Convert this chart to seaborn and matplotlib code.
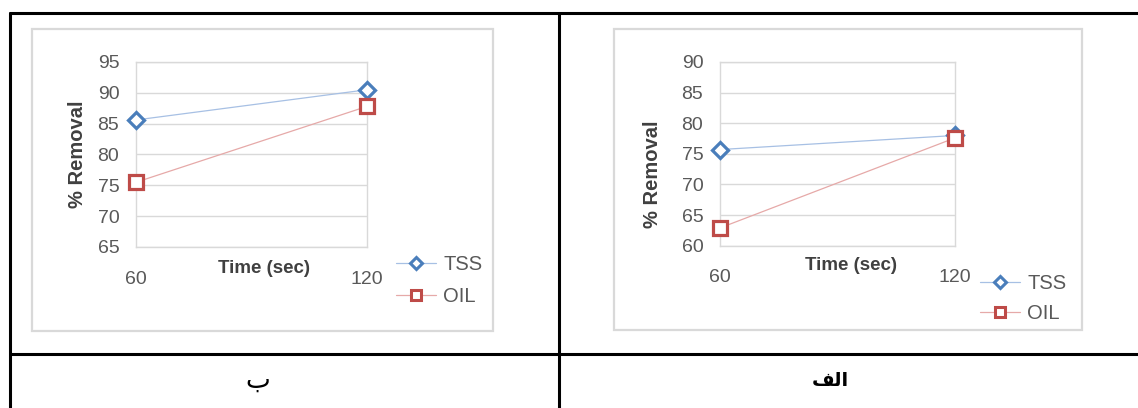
import matplotlib
matplotlib.use("Agg")
import matplotlib.pyplot as plt
import pandas as pd
import seaborn as sns
from matplotlib.lines import Line2D
from matplotlib.patches import Rectangle

# data
time_sec = [60, 120]
series_names = ["TSS", "OIL"]

# chart "ب" (left)
tss_b = [85.6, 90.5]
oil_b = [75.5, 87.8]
yticks_b = [65, 70, 75, 80, 85, 90, 95]

# chart "الف" (right)
tss_alef = [75.7, 78.0]
oil_alef = [62.9, 77.6]
yticks_alef = [60, 65, 70, 75, 80, 85, 90]

caption_b = "ب"
caption_alef = "الف"
y_title = "% Removal"
x_title = "Time (sec)"

W, H = 1138, 408

sns.set_theme(style="white")
plt.rcParams["font.family"] = ["Liberation Sans", "DejaVu Sans"]

TICK_C = "#595959"
GRID_C = "#d9d9d9"
styles = {
    "TSS": dict(marker="D", color="#a7c0e4", mec="#4a7ebb", ms=8.0, lms=6.5),
    "OIL": dict(marker="s", color="#e6a9a8", mec="#be4b48", ms=9.5, lms=7.5),
}

# very small arabic shaper: presentation forms + visual order (matplotlib has no shaping)
FORMS = {
    "ا": ("\uFE8D", "\uFE8E", None, None),
    "ل": ("\uFEDD", "\uFEDE", "\uFEDF", "\uFEE0"),
    "ف": ("\uFED1", "\uFED2", "\uFED3", "\uFED4"),
    "ب": ("\uFE8F", "\uFE90", "\uFE91", "\uFE92"),
}


def shape_arabic(text):
    out = []
    for i, ch in enumerate(text):
        if ch not in FORMS:
            out.append(ch)
            continue
        iso, fin, ini, med = FORMS[ch]
        prev = text[i - 1] if i > 0 else None
        nxt = text[i + 1] if i + 1 < len(text) else None
        join_prev = prev in FORMS and FORMS[prev][2] is not None
        join_next = nxt in FORMS and ini is not None
        if join_prev and join_next:
            out.append(med)
        elif join_prev:
            out.append(fin)
        elif join_next:
            out.append(ini)
        else:
            out.append(iso)
    return "".join(reversed(out))


def px(x, y):
    return x / W, 1 - y / H


def draw_chart(fig, box, area, tss, oil, yticks, ylab_xy, xlab_xy, leg_xy, leg_gap):
    # outer chart frame
    bx0, by0, bx1, by1 = box
    fig.patches.append(Rectangle(px(bx0, by1), (bx1 - bx0) / W, (by1 - by0) / H,
                                 transform=fig.transFigure, fill=False,
                                 edgecolor=GRID_C, lw=1.6))
    x0, y0, x1, y1 = area
    ax = fig.add_axes([x0 / W, 1 - y1 / H, (x1 - x0) / W, (y1 - y0) / H])
    df = pd.DataFrame({"Time": time_sec * 2,
                       "Removal": tss + oil,
                       "Series": ["TSS"] * 2 + ["OIL"] * 2})
    handles = []
    for name in series_names:
        st = styles[name]
        sns.lineplot(data=df[df["Series"] == name], x="Time", y="Removal", ax=ax,
                     color=st["color"], lw=0.9, marker=st["marker"],
                     markersize=st["ms"], markerfacecolor="white",
                     markeredgecolor=st["mec"], markeredgewidth=2.3,
                     legend=False, zorder=3, clip_on=False)
        handles.append(Line2D([], [], color=st["color"], lw=0.9, marker=st["marker"],
                              markersize=st["lms"], markerfacecolor="white",
                              markeredgecolor=st["mec"], markeredgewidth=2.2))
    ax.set_xlim(time_sec[0], time_sec[-1])
    ax.set_ylim(yticks[0], yticks[-1])
    ax.set_xticks(time_sec)
    ax.set_yticks(yticks)
    ax.tick_params(axis="both", length=0, labelsize=14, colors=TICK_C)
    ax.tick_params(axis="x", pad=17)
    ax.tick_params(axis="y", pad=12)
    ax.grid(axis="y", color=GRID_C, lw=1.0)
    for sp in ax.spines.values():
        sp.set_color(GRID_C)
        sp.set_linewidth(1.0)
    ax.set_ylabel(y_title, fontsize=14.5, fontweight="bold", color="#404040")
    ax.yaxis.set_label_coords(*ylab_xy)
    ax.set_xlabel(x_title, fontsize=13.5, fontweight="bold", color="#404040")
    ax.xaxis.set_label_coords(*xlab_xy)
    ax.legend(handles, series_names, loc="center left",
              bbox_to_anchor=px(*leg_xy), bbox_transform=fig.transFigure,
              frameon=False, borderpad=0, borderaxespad=0, fontsize=14.5,
              handlelength=2.0, handletextpad=0.35, labelspacing=leg_gap,
              labelcolor=TICK_C)
    return ax


fig = plt.figure(figsize=(W / 100, H / 100), dpi=100)
fig.patch.set_facecolor("white")

draw_chart(fig, (32, 29, 493, 331), (136, 62, 367, 247), tss_b, oil_b, yticks_b,
           (-0.21, 0.5), (0.555, -0.07), (396, 280.5), 0.62)
draw_chart(fig, (614, 29, 1082, 330), (720, 62, 955, 245.7), tss_alef, oil_alef, yticks_alef,
           (-0.245, 0.39), (0.557, -0.063), (980, 298.5), 0.52)

# table lines
for xs, ys in [((10, 1138), (13, 13)), ((10, 1138), (354, 354)),
               ((10, 10), (13, 408)), ((559, 559), (13, 408))]:
    fig.add_artist(Line2D([x / W for x in xs], [1 - y / H for y in ys],
                          color="black", lw=2.2, transform=fig.transFigure))

fig.text(*px(258, 381), shape_arabic(caption_b), ha="center", va="center",
         fontsize=19, color="black", family=["DejaVu Sans"])
fig.text(*px(830, 380), shape_arabic(caption_alef), ha="center", va="center",
         fontsize=14, fontweight="bold", color="black", family=["DejaVu Sans"])

fig.savefig("out.png", dpi=100)
